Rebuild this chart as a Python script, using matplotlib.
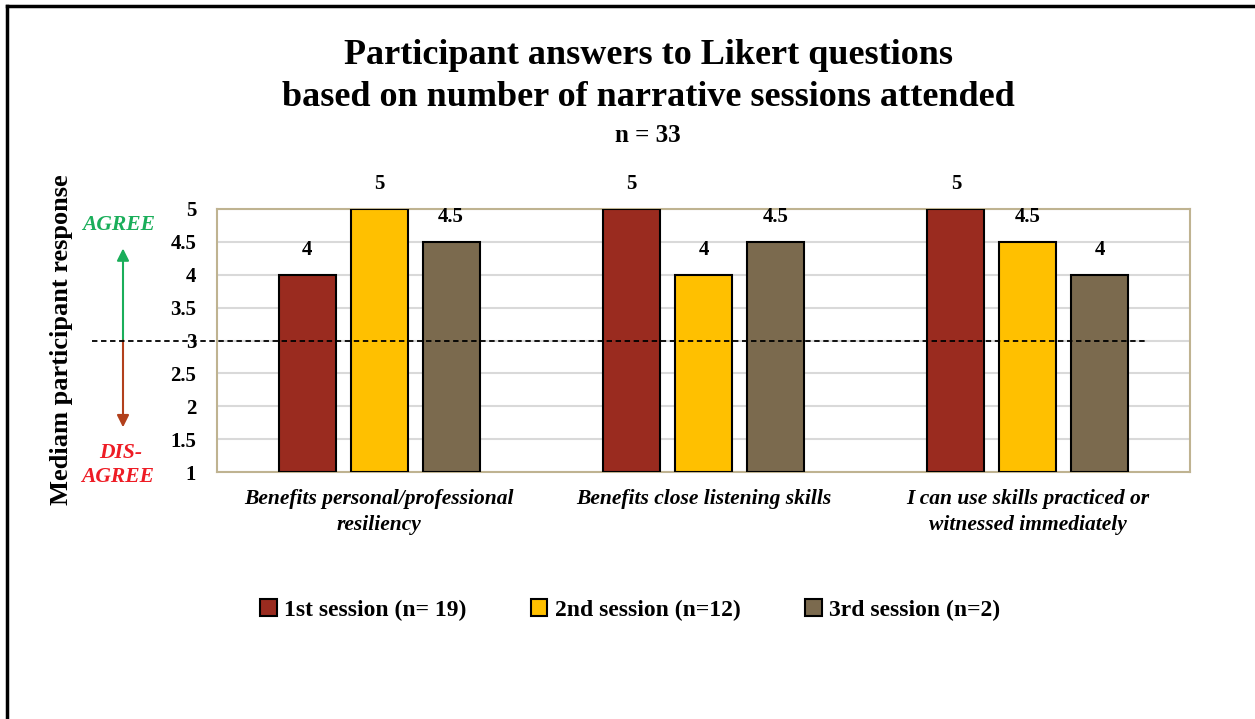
import matplotlib.pyplot as plt
from matplotlib.lines import Line2D
import numpy as np

# data
categories = ["Benefits personal/professional\nresiliency",
              "Benefits close listening skills",
              "I can use skills practiced or\nwitnessed immediately"]
series = ["1st session (n= 19)", "2nd session (n=12)", "3rd session (n=2)"]
values = [[4, 5, 5],
          [5, 4, 4.5],
          [4.5, 4.5, 4]]
colors = ["#9A2B1F", "#FFC000", "#7B6A4E"]
yticks = [1, 1.5, 2, 2.5, 3, 3.5, 4, 4.5, 5]

plt.rcParams['font.family'] = ['Liberation Serif', 'DejaVu Serif']

W, H = 1255, 719
fig = plt.figure(figsize=(W / 100, H / 100), dpi=100)

def fx(px):
    return px / W

def fy(py):
    return 1 - py / H

ax = fig.add_axes([fx(217), fy(472), fx(1190) - fx(217), fy(209) - fy(472)])

x = np.arange(len(categories))
width = 0.176
step = 0.222
for i, (name, vals, col) in enumerate(zip(series, values, colors)):
    pos = x + (i - 1) * step
    ax.bar(pos, np.array(vals) - 1, width, bottom=1, color=col,
           edgecolor='black', linewidth=1.5, label=name, zorder=3)
    for p, v in zip(pos, vals):
        ax.annotate(f"{v:g}", (p, v), xytext=(0, 18), textcoords='offset points',
                    ha='center', va='center', fontsize=15, fontweight='bold')

ax.set_xlim(-0.5, 2.5)
ax.set_ylim(1, 5)
ax.set_yticks(yticks)
ax.set_yticklabels([f"{t:g}" for t in yticks], fontsize=15, fontweight='bold')
ax.grid(axis='y', color='#D9D9D9', linewidth=1.5, zorder=0)
ax.tick_params(axis='y', length=0, pad=15)
ax.tick_params(axis='x', length=0, pad=12)
ax.set_xticks(x)
ax.set_xticklabels(categories, fontsize=15.5, fontweight='bold', style='italic',
                   linespacing=1.45)
for s in ax.spines.values():
    s.set_color('#BFB391')
    s.set_linewidth(1.5)

# neutral line at 3
ax.axhline(3, xmin=(92 - 217) / 973, xmax=(1146 - 217) / 973, color='black',
           linestyle=(0, (3, 2)), linewidth=1.3, clip_on=False, zorder=4)

# agree / disagree arrows
tr = ax.get_yaxis_transform()
ax_x = (123 - 217) / 973
ax.annotate("", xy=(ax_x, 4.4), xytext=(ax_x, 3), xycoords=tr, textcoords=tr,
            arrowprops=dict(arrowstyle='-|>', color='#1AAE5A', lw=1.5,
                            mutation_scale=18, shrinkA=0, shrinkB=0),
            annotation_clip=False)
ax.annotate("", xy=(ax_x, 1.68), xytext=(ax_x, 3), xycoords=tr, textcoords=tr,
            arrowprops=dict(arrowstyle='-|>', color='#B2401C', lw=1.5,
                            mutation_scale=18, shrinkA=0, shrinkB=0),
            annotation_clip=False)
fig.text(fx(119), fy(225), "AGREE", color='#1AAE5A', fontsize=15.5,
         fontweight='bold', style='italic', ha='center', va='center')
fig.text(fx(121), fy(453), "DIS-", color='#EE1C25', fontsize=15.5,
         fontweight='bold', style='italic', ha='center', va='center')
fig.text(fx(118), fy(477), "AGREE", color='#EE1C25', fontsize=15.5,
         fontweight='bold', style='italic', ha='center', va='center')

fig.text(fx(62), fy(340), "Mediam participant response", rotation=90,
         fontsize=19, fontweight='bold', ha='center', va='center')

# titles
fig.text(fx(648), fy(55), "Participant answers to Likert questions",
         fontsize=26, fontweight='bold', ha='center', va='center')
fig.text(fx(648), fy(97), "based on number of narrative sessions attended",
         fontsize=26, fontweight='bold', ha='center', va='center')
fig.text(fx(648), fy(135), "n = 33", fontsize=18, fontweight='bold',
         ha='center', va='center')

ax.legend(loc='center', bbox_to_anchor=(fx(630), fy(610)),
          bbox_transform=fig.transFigure, ncol=3, frameon=False,
          prop={'size': 17, 'weight': 'bold'}, handlelength=0.7,
          handleheight=0.7, handletextpad=0.3, columnspacing=2.75)

# outer frame (top and left edges visible)
fig.add_artist(Line2D([fx(7), 1], [fy(6), fy(6)], color='black', lw=2.5))
fig.add_artist(Line2D([fx(7), fx(7)], [0, fy(6)], color='black', lw=2.5))

fig.savefig("out.png", dpi=100)
